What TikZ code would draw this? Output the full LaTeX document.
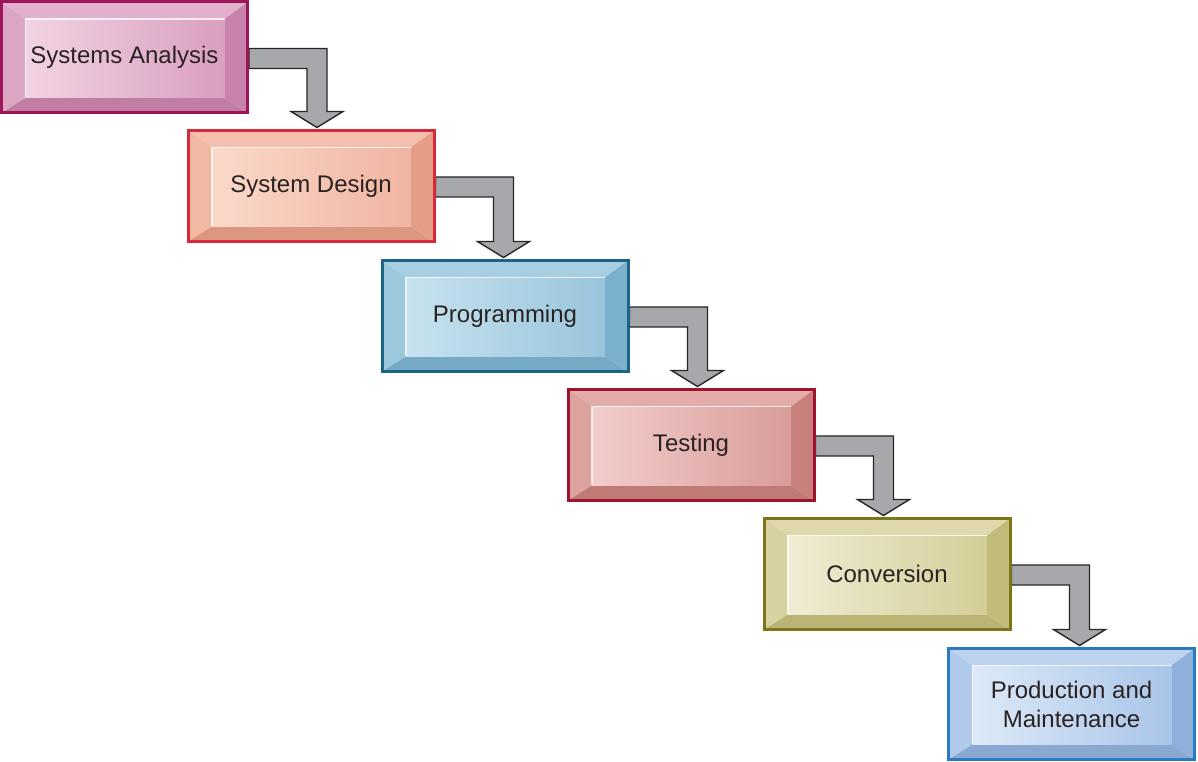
\documentclass[tikz,border=0pt]{standalone}
\usepackage{fontspec}
\setmainfont{Liberation Sans}
\usetikzlibrary{calc,backgrounds}

\definecolor{saedge}{HTML}{9B1557}
\definecolor{salight}{HTML}{F2D3E3}
\definecolor{sadark}{HTML}{CF86B0}
\definecolor{sdedge}{HTML}{D9283C}
\definecolor{sdlight}{HTML}{FAD9CA}
\definecolor{sddark}{HTML}{ECA28A}
\definecolor{pgedge}{HTML}{1B6487}
\definecolor{pglight}{HTML}{C7E2EF}
\definecolor{pgdark}{HTML}{7FB6D2}
\definecolor{tsedge}{HTML}{9E1430}
\definecolor{tslight}{HTML}{F2CDCB}
\definecolor{tsdark}{HTML}{CF8480}
\definecolor{cvedge}{HTML}{7D7619}
\definecolor{cvlight}{HTML}{EFECD3}
\definecolor{cvdark}{HTML}{C8C27E}
\definecolor{pmedge}{HTML}{2A79C1}
\definecolor{pmlight}{HTML}{DDE9F8}
\definecolor{pmdark}{HTML}{93B6E2}
\definecolor{pipegray}{HTML}{A7A8AB}
\definecolor{inktext}{HTML}{2A2222}

\tikzset{
	stage/.style = {rectangle, line width=3pt, minimum width=246pt, minimum height=111pt,
		inner sep=0pt, align=center, text=inktext, font=\fontsize{24}{29}\selectfont},
	pipe/.style = {fill=pipegray, draw=black!85, line width=1.4pt, line join=miter}
}

% bevelled box: name, position, text, colour prefix
\newcommand{\stage}[4]{%
	\node[stage, draw=#4edge, path picture={
		\coordinate (pnw) at (path picture bounding box.north west);
		\coordinate (pse) at (path picture bounding box.south east);
		\coordinate (pne) at (pnw -| pse);
		\coordinate (psw) at (pse -| pnw);
		\coordinate (inw) at ($(pnw)+(24,-17)$);
		\coordinate (ine) at ($(pne)+(-23,-17)$);
		\coordinate (ise) at ($(pse)+(-23,15)$);
		\coordinate (isw) at ($(psw)+(24,15)$);
		\fill[#4light!55!#4dark] (pnw) -- (pne) -- (ine) -- (inw) -- cycle;
		\fill[#4light!40!#4dark] (pnw) -- (inw) -- (isw) -- (psw) -- cycle;
		\fill[#4dark!93!black] (psw) -- (isw) -- (ise) -- (pse) -- cycle;
		\fill[#4dark!97!black] (pse) -- (ise) -- (ine) -- (pne) -- cycle;
		\shade[left color=#4light, right color=#4dark!80!white] (inw) rectangle (ise);
		\draw[white, opacity=0.8, line width=1.2pt] (isw) -- (inw) -- (ine);
	}] (#1) at (#2) {#3};
}

\begin{document}
\begin{tikzpicture}[x=1pt, y=1pt]
	\useasboundingbox (0,0) rectangle (1198,762);

	\stage{sa}{124.5,704.5}{Systems Analysis}{sa}
	\stage{sd}{311,576}{System Design}{sd}
	\stage{prog}{505,446}{Programming}{pg}
	\stage{test}{691,317}{Testing}{ts}
	\stage{conv}{887,188}{Conversion}{cv}
	\stage{prod}{1071.5,58}{Production and\\Maintenance}{pm}

	% elbow arrows between the stages
	\begin{scope}[on background layer]
		\foreach \a/\b in {sa/sd, sd/prog, prog/test, test/conv, conv/prod} {
			\coordinate (bend) at ($(\a.east)+(68,0)$);
			\coordinate (tip) at ($(bend |- \b.north)+(0,1.5)$);
			\draw[pipe] ($(\a.east)+(0,9)$) -- ($(bend)+(10,9)$) -- ($(tip)+(10,16)$)
				-- ($(tip)+(26,16)$) -- (tip) -- ($(tip)+(-26,16)$) -- ($(tip)+(-10,16)$)
				-- ($(bend)+(-10,-11)$) -- ($(\a.east)+(0,-11)$) -- cycle;
		}
	\end{scope}
\end{tikzpicture}
\end{document}
